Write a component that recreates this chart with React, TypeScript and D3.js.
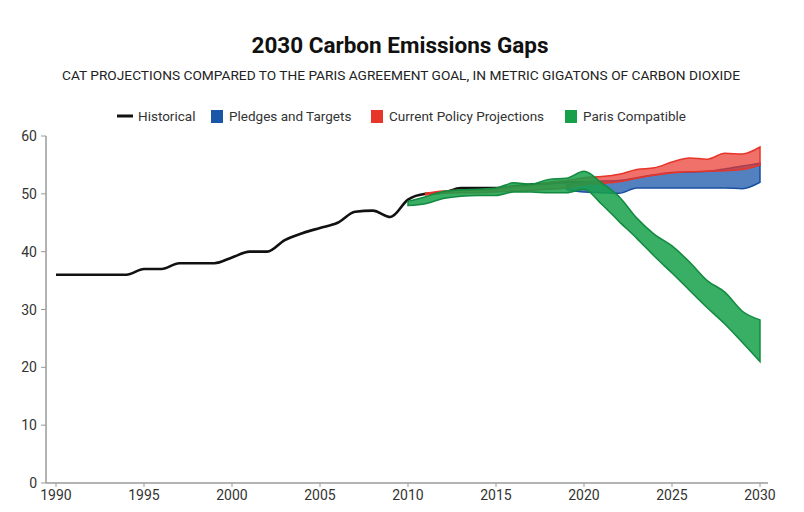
import React from "react";
import * as d3 from "d3";

const histYears = d3.range(1990, 2021);
const histValues = [36, 36, 36, 36, 36, 37, 37, 38, 38, 38, 39, 40, 40, 42, 43.2, 44.1, 45, 46.9, 47.1, 46, 49, 50, 50.2, 51, 51, 51, 51.3, 51.6, 51.8, 52, 52];

const parisYears = d3.range(2010, 2031);
const parisUpper = [48.7, 49.5, 50.4, 50.7, 50.8, 51.0, 51.9, 51.7, 52.5, 52.7, 53.9, 51.9, 49.5, 45.8, 43.0, 41.0, 38.2, 35.0, 33.0, 29.7, 28.2];
const parisLower = [48.0, 48.3, 49.2, 49.6, 49.7, 49.7, 50.3, 50.3, 50.2, 50.2, 50.8, 48.2, 45.2, 42.3, 39.2, 36.3, 33.3, 30.3, 27.5, 24.3, 21.0];

const policyYears = d3.range(2011, 2031);
const policyUpper = [50.1, 50.5, 50.6, 50.6, 50.8, 51.3, 51.4, 52.0, 52.3, 52.8, 53.0, 53.4, 54.2, 54.5, 55.5, 56.2, 56.0, 57.0, 56.9, 58.1];
const policyLower = [49.8, 50.1, 50.2, 50.2, 50.3, 50.5, 50.6, 50.8, 51.0, 51.6, 51.8, 52.1, 52.7, 53.2, 53.6, 53.8, 53.9, 54.0, 54.2, 55.0];

const pledgeYears = d3.range(2019, 2031);
const pledgeUpper = [51.5, 52.0, 52.2, 52.3, 52.8, 53.3, 53.7, 53.8, 53.9, 54.3, 54.8, 55.3];
const pledgeLower = [50.8, 50.3, 50.2, 50.1, 51.0, 51.0, 51.0, 51.0, 51.0, 51.0, 50.9, 52.0];

const xTicks = [1990, 1995, 2000, 2005, 2010, 2015, 2020, 2025, 2030];
const yTicks = [0, 10, 20, 30, 40, 50, 60];

const legendItems = [
  { label: "Historical", kind: "line", color: "#111111" },
  { label: "Pledges and Targets", kind: "box", color: "#1a56a8" },
  { label: "Current Policy Projections", kind: "box", color: "#e8352a" },
  { label: "Paris Compatible", kind: "box", color: "#16a04a" },
];

export default function App() {
  const x = d3.scaleLinear().domain([1990, 2030]).range([56, 760]);
  const y = d3.scaleLinear().domain([0, 60]).range([483, 136]);

  const band = (years: number[], lo: number[], hi: number[]) =>
    d3
      .area<number>()
      .x((_, i) => x(years[i]))
      .y0((_, i) => y(lo[i]))
      .y1((_, i) => y(hi[i]))
      .curve(d3.curveMonotoneX)(years) || "";

  const histLine =
    d3
      .line<number>()
      .x((_, i) => x(histYears[i]))
      .y((d) => y(d))
      .curve(d3.curveMonotoneX)(histValues) || "";

  const font = "Roboto, 'DejaVu Sans', sans-serif";
  const legendX = [117, 211, 371, 565];

  return (
    <svg width={804} height={512} style={{ position: "absolute", left: 0, top: 0, background: "#fff" }} fontFamily={font}>
      <rect width={804} height={512} fill="#fff" />
      <text x={400} y={53} textAnchor="middle" fontSize={22.5} fontWeight={700} fill="#111">
        2030 Carbon Emissions Gaps
      </text>
      <text x={401} y={80} textAnchor="middle" fontSize={12.5} fill="#222" textLength={678} lengthAdjust="spacingAndGlyphs">
        CAT PROJECTIONS COMPARED TO THE PARIS AGREEMENT GOAL, IN METRIC GIGATONS OF CARBON DIOXIDE
      </text>

      {legendItems.map((it, i) => (
        <g key={it.label} transform={`translate(${legendX[i]},116)`}>
          {it.kind === "line" ? (
            <line x1={0} x2={16} y1={0} y2={0} stroke={it.color} strokeWidth={3} />
          ) : (
            <rect x={0} y={-6} width={12} height={13} fill={it.color} />
          )}
          <text x={it.kind === "line" ? 21 : 18} y={5} fontSize={13.5} fill="#333">
            {it.label}
          </text>
        </g>
      ))}

      {/* axes */}
      <line x1={46} x2={46} y1={136} y2={483} stroke="#9a9a9a" strokeWidth={1.5} />
      <line x1={46} x2={768} y1={483} y2={483} stroke="#9a9a9a" strokeWidth={1.5} />
      {yTicks.map((t) => (
        <g key={t}>
          <line x1={41} x2={46} y1={y(t)} y2={y(t)} stroke="#9a9a9a" />
          <text x={37} y={y(t) + 5} textAnchor="end" fontSize={14} fill="#333">
            {t}
          </text>
        </g>
      ))}
      {xTicks.map((t) => (
        <g key={t}>
          <line x1={x(t)} x2={x(t)} y1={483} y2={487} stroke="#9a9a9a" />
          <text x={x(t)} y={500} textAnchor="middle" fontSize={14} fill="#333">
            {t}
          </text>
        </g>
      ))}

      <path d={histLine} fill="none" stroke="#111" strokeWidth={2.6} strokeLinejoin="round" />
      <path d={band(pledgeYears, pledgeLower, pledgeUpper)} fill="#1a56a8" fillOpacity={0.75} stroke="#1a4fa0" strokeWidth={1.5} />
      <path d={band(policyYears, policyLower, policyUpper)} fill="#e8352a" fillOpacity={0.7} stroke="#e8352a" strokeWidth={1.5} />
      <path d={band(parisYears, parisLower, parisUpper)} fill="#16a04a" fillOpacity={0.85} stroke="#138a40" strokeWidth={1.5} />
    </svg>
  );
}
